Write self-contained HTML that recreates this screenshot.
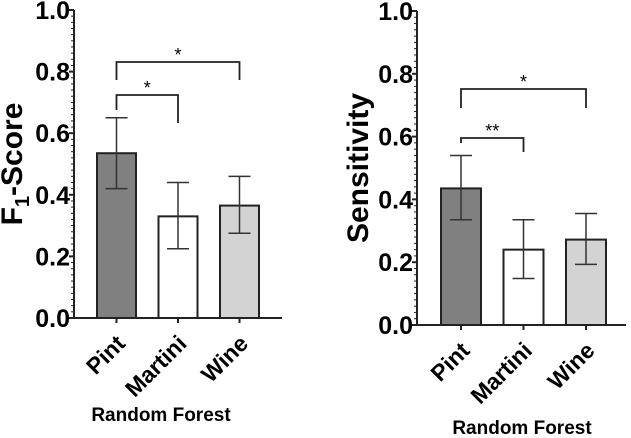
<!DOCTYPE html>
<html><head><meta charset="utf-8"><style>
body{margin:0;background:#fff}
svg{display:block;font-family:"Liberation Sans",Arial,sans-serif}
</style></head><body>
<svg id="s" width="631" height="438" viewBox="0 0 631 438"></svg>
<script>
const categories=["Pint","Martini","Wine"];
const f1Values=[0.535,0.33,0.365];
const f1Lo=[0.42,0.225,0.275];
const f1Hi=[0.65,0.44,0.46];
const sensValues=[0.435,0.24,0.272];
const sensLo=[0.335,0.148,0.193];
const sensHi=[0.54,0.335,0.355];
const yTicks=[0,0.2,0.4,0.6,0.8,1.0];
const fills=["#808080","#ffffff","#d3d3d3"];
const NS="http://www.w3.org/2000/svg";
const svg=document.getElementById('s');
function mk(tag,attrs,parent,text){const e=document.createElementNS(NS,tag);for(const k in attrs)e.setAttribute(k,attrs[k]);if(text!==undefined)e.textContent=text;(parent||svg).appendChild(e);return e;}
function chart(cfg){
  const g=mk('g',{});
  
  
  const y=v=>cfg.y0-(cfg.y0-cfg.y1)*v;
  const bx=i=>cfg.barX[0]+i*cfg.step;
  categories.forEach((c,i)=>{
    const r=mk('rect',{x:bx(i),y:y(cfg.vals[i]),width:cfg.bw,height:cfg.y0-y(cfg.vals[i]),fill:fills[i],stroke:'#222','stroke-width':2},g);
    
    
    const cx=bx(i)+cfg.bw/2;
    const e=mk('path',{d:`M${cx} ${y(cfg.lo[i])}V${y(cfg.hi[i])}M${cx-11} ${y(cfg.hi[i])}H${cx+11}M${cx-11} ${y(cfg.lo[i])}H${cx+11}`,stroke:'#333','stroke-width':1.5,fill:'none'},g);
    
    
    mk('line',{x1:cx,x2:cx,y1:cfg.y0,y2:cfg.y0+5,stroke:'#222','stroke-width':2},g);
    const t=mk('text',{x:0,y:0,'font-size':23,'font-weight':'bold','text-anchor':'end',transform:`translate(${cx+10},${cfg.y0+27}) rotate(-45)`},g,c);
    
    
  });
  mk('line',{x1:cfg.ax,x2:cfg.ax,y1:cfg.y1,y2:cfg.y0,stroke:'#222','stroke-width':2},g);
  mk('line',{x1:cfg.ax,x2:cfg.axEnd,y1:cfg.y0,y2:cfg.y0,stroke:'#222','stroke-width':2},g);
  for(let k=0;k<=50;k++){const v=k/50;const major=k%10==0;
    mk('line',{x1:cfg.ax-(major?5:3),x2:cfg.ax,y1:y(v),y2:y(v),stroke:'#222','stroke-width':major?2:1},g);}
  yTicks.forEach(v=>{const t=mk('text',{x:cfg.ax-4,y:y(v)+9,'font-size':25,'font-weight':'bold','text-anchor':'end'},g,v.toFixed(1));
    });
  const yt=mk('text',{transform:`translate(${cfg.titleX},${(cfg.y0+cfg.y1)/2}) rotate(-90)`,'font-size':30,'font-weight':'bold','text-anchor':'middle'},g);
  
  if(cfg.sub){mk('tspan',{},yt,'F');mk('tspan',{'font-size':20,dy:7},yt,'1');mk('tspan',{dy:-7},yt,'-Score');}
  else yt.textContent=cfg.title;
  const xt=mk('text',{x:cfg.xtX,y:cfg.xtY,'font-size':19,'font-weight':'bold','text-anchor':'middle'},g,'Random Forest');
  
  cfg.br.forEach(b=>{const x1=bx(b.a)+cfg.bw/2,x2=bx(b.b)+cfg.bw/2;
    const p=mk('path',{d:`M${x1} ${b.l}V${b.y}H${x2}V${b.r}`,stroke:'#222','stroke-width':1.8,fill:'none'},g);
    
    mk('text',{x:(x1+x2)/2,y:b.y-1,'font-size':18,'text-anchor':'middle'},g,b.s);});
}
chart({name:'f1-chart',vals:f1Values,lo:f1Lo,hi:f1Hi,y0:318,y1:10,ax:74,axEnd:282,barX:[97],step:61.5,bw:39,titleX:22,sub:true,xtX:161,xtY:421,
  br:[{a:0,b:1,y:95,l:110,r:123,s:'*'},{a:0,b:2,y:62,l:80,r:80,s:'*'}]});
chart({name:'sensitivity-chart',vals:sensValues,lo:sensLo,hi:sensHi,y0:325,y1:11,ax:417,axEnd:626,barX:[441],step:62.5,bw:40,titleX:368,title:'Sensitivity',xtX:522,xtY:434,
  br:[{a:0,b:1,y:138,l:143,r:152,s:'**'},{a:0,b:2,y:89,l:108,r:108,s:'*'}]});
</script>
</body></html>
